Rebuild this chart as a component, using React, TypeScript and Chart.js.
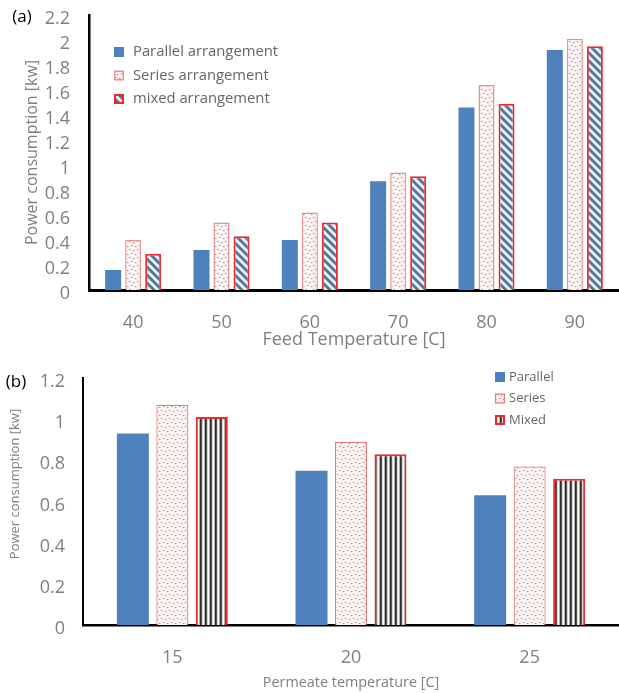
import React, { useEffect, useRef } from 'react';
import { Chart, registerables } from 'chart.js';

Chart.register(...registerables);

// ---- data ----
const feedTemperatures = ['40', '50', '60', '70', '80', '90'];
const feedParallel = [0.16, 0.32, 0.4, 0.87, 1.46, 1.92];
const feedSeries = [0.4, 0.54, 0.62, 0.94, 1.64, 2.01];
const feedMixed = [0.29, 0.43, 0.54, 0.91, 1.49, 1.95];
const feedSeriesNames = ['Parallel arrangement', 'Series arrangement', 'mixed arrangement'];

const permeateTemperatures = ['15', '20', '25'];
const permParallel = [0.93, 0.75, 0.63];
const permSeries = [1.07, 0.89, 0.77];
const permMixed = [1.01, 0.83, 0.71];
const permSeriesNames = ['Parallel', 'Series', 'Mixed'];

const FONT = '"Open Sans", "Noto Sans", sans-serif';
const GREY = '#7f7f7f';
const LEGEND_GREY = '#666666';
const BLUE = '#4f81bd';

function makePattern(w: number, h: number, draw: (g: CanvasRenderingContext2D) => void) {
  const c = document.createElement('canvas');
  c.width = w;
  c.height = h;
  const g = c.getContext('2d')!;
  draw(g);
  return g.createPattern(c, 'repeat')!;
}

const dottedPattern = () =>
  makePattern(8, 8, (g) => {
    g.fillStyle = '#faf3f1';
    g.fillRect(0, 0, 8, 8);
    g.fillStyle = '#a08c8c';
    [[1, 1], [5, 2], [3, 5], [7, 6]].forEach(([x, y]) => g.fillRect(x, y, 1, 1));
    g.fillStyle = '#d4c6c6';
    [[2, 1], [5, 3], [4, 5], [0, 6]].forEach(([x, y]) => g.fillRect(x, y, 1, 1));
  });

const diagonalPattern = () =>
  makePattern(8, 8, (g) => {
    g.fillStyle = '#e3f4fb';
    g.fillRect(0, 0, 8, 8);
    g.strokeStyle = '#5a7394';
    g.lineWidth = 2.8;
    for (const off of [-8, 0, 8]) {
      g.beginPath();
      g.moveTo(off - 1, -1);
      g.lineTo(off + 9, 9);
      g.stroke();
    }
  });

const verticalPattern = () =>
  makePattern(5, 4, (g) => {
    const cols = ['#2f2f2f', '#555555', '#d8d8d8', '#ffffff', '#b0b0b0'];
    cols.forEach((c, i) => {
      g.fillStyle = c;
      g.fillRect(i, 0, 1, 4);
    });
  });

type TextItem = { text: string; x: number; y: number; font: string; color: string; rotate?: number; align?: CanvasTextAlign };

function textPlugin(id: string, items: TextItem[]) {
  return {
    id,
    afterDraw(chart: any) {
      const ctx = chart.ctx as CanvasRenderingContext2D;
      items.forEach((it) => {
        ctx.save();
        ctx.translate(it.x, it.y);
        if (it.rotate) ctx.rotate(it.rotate);
        ctx.font = it.font;
        ctx.fillStyle = it.color;
        ctx.textAlign = it.align || 'center';
        ctx.textBaseline = 'middle';
        ctx.fillText(it.text, 0, 0);
        ctx.restore();
      });
    },
  };
}

function legendPlugin(id: string, o: { x: number; textX: number; y0: number; dy: number; box: number; font: string; color: string }) {
  return {
    id,
    afterDraw(chart: any) {
      const ctx = chart.ctx as CanvasRenderingContext2D;
      chart.data.datasets.forEach((ds: any, i: number) => {
        const cy = o.y0 + i * o.dy;
        const top = cy - o.box / 2;
        const bw = ds.borderWidth || 0;
        ctx.save();
        if (bw) {
          ctx.fillStyle = ds.borderColor;
          ctx.fillRect(o.x, top, o.box, o.box);
        }
        ctx.fillStyle = ds.backgroundColor;
        ctx.fillRect(o.x + bw, top + bw, o.box - 2 * bw, o.box - 2 * bw);
        ctx.font = o.font;
        ctx.fillStyle = o.color;
        ctx.textAlign = 'left';
        ctx.textBaseline = 'middle';
        ctx.fillText(ds.label, o.textX, cy);
        ctx.restore();
      });
    },
  };
}

const fmt = (v: any) => String(Math.round(Number(v) * 10) / 10);

const fixWidth = (w: number) => (s: any) => {
  s.width = w;
  s.paddingTop = 0;
  s.paddingBottom = 0;
  s.paddingLeft = 0;
  s.paddingRight = 0;
};
const fixHeight = (h: number) => (s: any) => {
  s.height = h;
  s.paddingTop = 0;
  s.paddingBottom = 0;
  s.paddingLeft = 0;
  s.paddingRight = 0;
};

function configA(): any {
  return {
    type: 'bar',
    data: {
      labels: feedTemperatures,
      datasets: [
        { label: feedSeriesNames[0], data: feedParallel, backgroundColor: BLUE, borderWidth: 0 },
        { label: feedSeriesNames[1], data: feedSeries, backgroundColor: dottedPattern(), borderColor: 'rgba(225,110,110,0.75)', borderWidth: 1.5 },
        { label: feedSeriesNames[2], data: feedMixed, backgroundColor: diagonalPattern(), borderColor: '#ee2a2a', borderWidth: 2 },
      ],
    },
    options: {
      responsive: false,
      animation: false,
      events: [],
      layout: { padding: { top: 15, left: 0, right: 0, bottom: 0 } },
      datasets: { bar: { categoryPercentage: 0.68, barPercentage: 0.8 } },
      plugins: { legend: { display: false }, tooltip: { enabled: false } },
      scales: {
        x: {
          grid: { display: false, drawTicks: false },
          border: { display: true, color: '#000000', width: 3 },
          ticks: { color: GREY, font: { family: FONT, size: 18 }, padding: 22.2 },
          title: {
            display: true,
            text: 'Feed Temperature [C]',
            color: GREY,
            font: { family: FONT, size: 18 },
            padding: { top: 0, bottom: 1.2 },
          },
          afterFit: fixHeight(62),
        },
        y: {
          min: 0,
          max: 2.2,
          grid: { display: false, drawTicks: false },
          border: { display: true, color: '#000000', width: 2.5 },
          ticks: { stepSize: 0.2, color: GREY, font: { family: FONT, size: 18 }, padding: 19, labelOffset: 4, callback: fmt },
          title: {
            display: true,
            text: 'Power consumption [kw]',
            color: GREY,
            font: { family: FONT, size: 16 },
            padding: { top: 22.4, bottom: 0 },
          },
          afterFit: fixWidth(89),
        },
      },
    },
    plugins: [
      textPlugin('labelsA', [{ text: '(a)', x: 22, y: 17, font: `17px ${FONT}`, color: '#000000' }]),
      legendPlugin('legendA', { x: 114, textX: 133, y0: 52, dy: 23.5, box: 10, font: `14.8px ${FONT}`, color: LEGEND_GREY }),
    ],
  };
}

function configB(): any {
  return {
    type: 'bar',
    data: {
      labels: permeateTemperatures,
      datasets: [
        { label: permSeriesNames[0], data: permParallel, backgroundColor: BLUE, borderWidth: 0 },
        { label: permSeriesNames[1], data: permSeries, backgroundColor: dottedPattern(), borderColor: 'rgba(225,100,100,0.85)', borderWidth: 1.2 },
        { label: permSeriesNames[2], data: permMixed, backgroundColor: verticalPattern(), borderColor: '#ee2a2a', borderWidth: 2 },
      ],
    },
    options: {
      responsive: false,
      animation: false,
      events: [],
      layout: { padding: { top: 33, left: 0, right: 0, bottom: 0 } },
      datasets: { bar: { categoryPercentage: 0.663, barPercentage: 0.81 } },
      plugins: { legend: { display: false }, tooltip: { enabled: false } },
      scales: {
        x: {
          grid: { display: false, drawTicks: false },
          border: { display: true, color: '#000000', width: 2.5 },
          ticks: { color: GREY, font: { family: FONT, size: 18 }, padding: 22.2 },
          title: {
            display: true,
            text: 'Permeate temperature [C]',
            color: GREY,
            font: { family: FONT, size: 14.4 },
            padding: { top: 0, bottom: 1.4 },
          },
          afterFit: fixHeight(68),
        },
        y: {
          min: 0,
          max: 1.2,
          grid: { display: false, drawTicks: false },
          border: { display: true, color: '#000000', width: 2 },
          ticks: { stepSize: 0.2, color: GREY, font: { family: FONT, size: 18 }, padding: 18, labelOffset: 4, callback: fmt },
          title: { display: false },
          afterFit: fixWidth(83),
        },
      },
    },
    plugins: [
      textPlugin('labelsB', [
        { text: '(b)', x: 16, y: 37, font: `17px ${FONT}`, color: '#000000' },
        { text: 'Power consumption [kw]', x: 15, y: 139, font: `13px ${FONT}`, color: GREY, rotate: -Math.PI / 2 },
      ]),
      legendPlugin('legendB', { x: 495, textX: 509, y0: 32, dy: 21.5, box: 10, font: `13px ${FONT}`, color: LEGEND_GREY }),
    ],
  };
}

export default function App() {
  const refA = useRef<HTMLCanvasElement>(null);
  const refB = useRef<HTMLCanvasElement>(null);

  useEffect(() => {
    const a = new Chart(refA.current!, configA());
    const b = new Chart(refB.current!, configB());
    return () => {
      a.destroy();
      b.destroy();
    };
  }, []);

  return (
    <div style={{ position: 'absolute', left: 0, top: 0, width: 619, height: 693, overflow: 'hidden', background: '#ffffff' }}>
      <canvas ref={refA} width={619} height={352} style={{ position: 'absolute', left: 0, top: 0, display: 'block' }} />
      <canvas ref={refB} width={619} height={348} style={{ position: 'absolute', left: 0, top: 345, display: 'block' }} />
    </div>
  );
}
